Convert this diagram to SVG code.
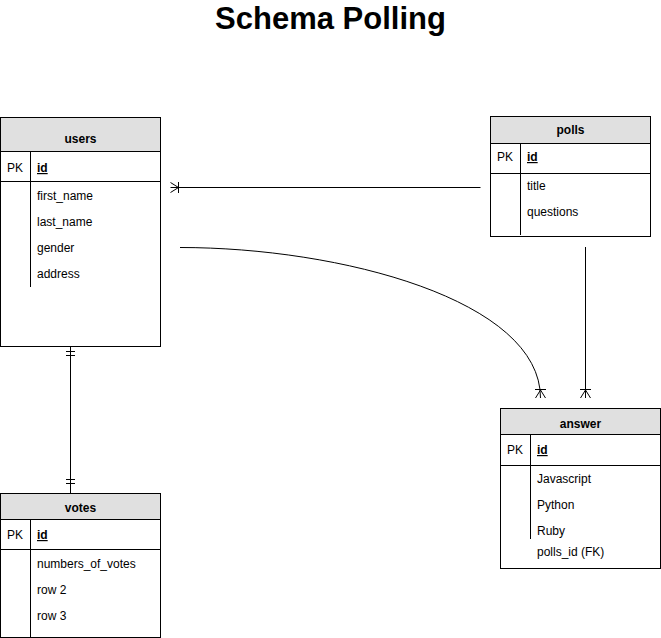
<svg xmlns="http://www.w3.org/2000/svg" width="661" height="638" viewBox="0 0 661 638">
<style>
  .box{fill:#ffffff;stroke:#000000;stroke-width:1}
  .hdr{fill:#e0e0e0;stroke:#000000;stroke-width:1}
  .ln{stroke:#000000;stroke-width:1;fill:none}
  text{font-family:"Liberation Sans",Arial,Helvetica,sans-serif;font-size:12px;fill:#000000}
  .t{font-weight:bold;text-anchor:middle}
  .id{font-weight:bold;text-decoration:underline}
  .title{font-size:31px;font-weight:bold;text-anchor:middle}
</style>
<rect width="661" height="638" fill="#ffffff"/>
<text class="title" x="330.500" y="29">Schema Polling</text>

<g id="connectors">
  <!-- polls -> users -->
  <path class="ln" d="M480.500,187.500 H170.500 M178.500,182 V193 M178.500,187.500 L170.500,182.500 M178.500,187.500 L170.500,192.500"/>
  <!-- users -> answer curve -->
  <path class="ln" d="M180,247.500 C340,247.500 540.500,300 540.500,398"/>
  <path class="ln" d="M535,389.500 H546 M540.500,390 L535.500,398 M540.500,390 L545.500,398"/>
  <!-- polls -> answer -->
  <path class="ln" d="M585.500,247 V398 M580,389.500 H591 M585.500,390 L580.500,398 M585.500,390 L590.500,398"/>
  <!-- users -> votes -->
  <path class="ln" d="M70.500,347 V493 M66,351.500 H75 M66,355.500 H75 M66,479.500 H75 M66,483.500 H75"/>
</g>

<g id="users">
  <rect class="box" x="0.500" y="117.500" width="160" height="229"/>
  <rect class="hdr" x="0.500" y="117.500" width="160" height="34"/>
  <line class="ln" x1="0.500" y1="181.500" x2="160.500" y2="181.500"/>
  <line class="ln" x1="30.500" y1="151.500" x2="30.500" y2="287"/>
  <text class="t" x="80.500" y="143">users</text>
  <text x="7" y="172">PK</text>
  <text class="id" x="37" y="172">id</text>
  <text x="37" y="200">first_name</text>
  <text x="37" y="226">last_name</text>
  <text x="37" y="252">gender</text>
  <text x="37" y="278">address</text>
</g>

<g id="polls">
  <rect class="box" x="490.500" y="116.500" width="160" height="120"/>
  <rect class="hdr" x="490.500" y="116.500" width="160" height="27"/>
  <line class="ln" x1="490.500" y1="173.500" x2="650.500" y2="173.500"/>
  <line class="ln" x1="520.500" y1="143.500" x2="520.500" y2="235"/>
  <text class="t" x="570.500" y="134">polls</text>
  <text x="497" y="161">PK</text>
  <text class="id" x="527" y="161">id</text>
  <text x="527" y="190">title</text>
  <text x="527" y="216">questions</text>
</g>

<g id="answer">
  <rect class="box" x="500.500" y="408.500" width="160" height="160"/>
  <rect class="hdr" x="500.500" y="408.500" width="160" height="26"/>
  <line class="ln" x1="500.500" y1="465.500" x2="660.500" y2="465.500"/>
  <line class="ln" x1="530.500" y1="434.500" x2="530.500" y2="539"/>
  <text class="t" x="580.500" y="428">answer</text>
  <text x="507" y="454">PK</text>
  <text class="id" x="537" y="454">id</text>
  <text x="537" y="483">Javascript</text>
  <text x="537" y="509">Python</text>
  <text x="537" y="535">Ruby</text>
  <text x="537" y="556">polls_id (FK)</text>
</g>

<g id="votes">
  <rect class="box" x="0.500" y="493.500" width="160" height="144"/>
  <rect class="hdr" x="0.500" y="493.500" width="160" height="26"/>
  <line class="ln" x1="0.500" y1="549.500" x2="160.500" y2="549.500"/>
  <line class="ln" x1="30.500" y1="519.500" x2="30.500" y2="638"/>
  <text class="t" x="80.500" y="512">votes</text>
  <text x="7" y="539">PK</text>
  <text class="id" x="37" y="539">id</text>
  <text x="37" y="568">numbers_of_votes</text>
  <text x="37" y="594">row 2</text>
  <text x="37" y="620">row 3</text>
</g>
</svg>
